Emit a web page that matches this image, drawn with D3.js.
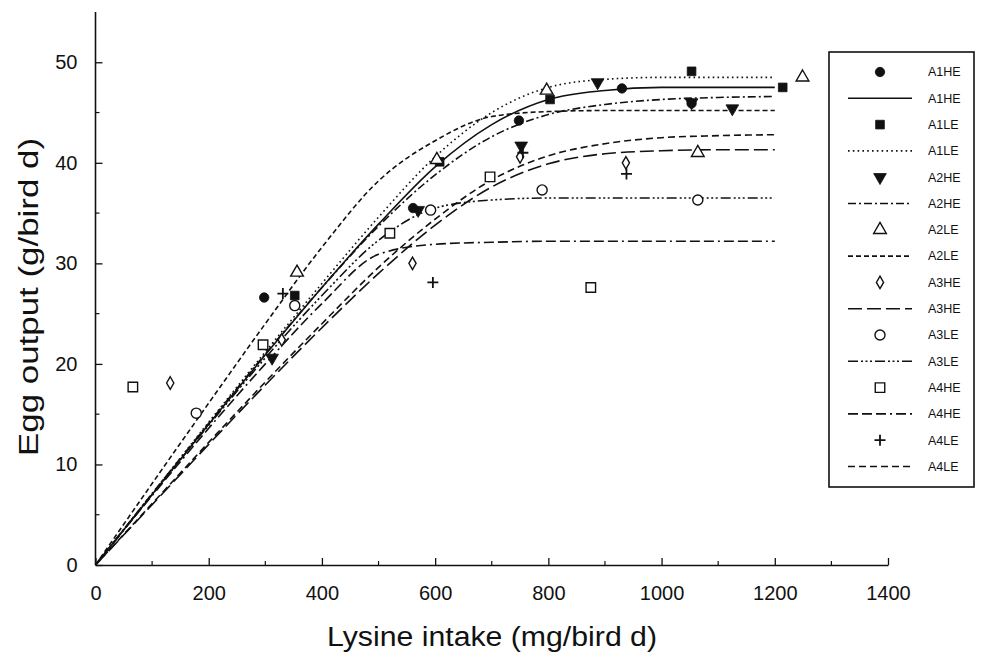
<!DOCTYPE html>
<html>
<head>
<meta charset="utf-8">
<script src="https://cdn.jsdelivr.net/npm/d3@7"></script>
<style>
  html, body { margin: 0; padding: 0; background: #fff; }
  svg { display: block; }
  text { font-family: "Liberation Sans", Arial, sans-serif; fill: #111; }
</style>
</head>
<body>
<svg id="chart" width="981" height="658"></svg>
<script>
// Series labels, in legend order
const groups = ["A1HE", "A1LE", "A2HE", "A2LE", "A3HE", "A3LE", "A4HE", "A4LE"];

// Lysine intake grid used for the fitted response curves (mg/bird d)
const curveX = [0, 100, 200, 300, 400, 500, 600, 700, 800, 900, 1000, 1100, 1200];

// Fitted egg output (g/bird d) at each curveX value
const fitA1HE = [0, 7.0, 14.0, 20.9, 27.6, 33.9, 39.6, 43.8, 46.3, 47.2, 47.5, 47.5, 47.5];
const fitA1LE = [0, 7.1, 14.2, 21.2, 28.0, 34.6, 40.6, 45.0, 47.5, 48.3, 48.5, 48.5, 48.5];
const fitA2HE = [0, 7.1, 14.1, 21.0, 27.6, 33.7, 38.8, 42.6, 44.8, 45.8, 46.3, 46.5, 46.6];
const fitA2LE = [0, 8.1, 16.1, 24.0, 31.6, 38.2, 42.2, 44.6, 45.1, 45.2, 45.2, 45.2, 45.2];
const fitA3HE = [0, 6.0, 12.0, 17.9, 23.6, 29.0, 33.8, 37.6, 39.9, 40.9, 41.2, 41.3, 41.3];
const fitA3LE = [0, 7.0, 13.9, 20.6, 26.8, 32.3, 35.5, 36.3, 36.5, 36.5, 36.5, 36.5, 36.5];
const fitA4HE = [0, 6.9, 13.6, 20.0, 26.0, 30.9, 31.9, 32.1, 32.2, 32.2, 32.2, 32.2, 32.2];
const fitA4LE = [0, 6.1, 12.2, 18.2, 24.0, 29.6, 34.4, 38.3, 40.7, 41.9, 42.5, 42.7, 42.8];

// Observed points: lysine intake (mg/bird d) and egg output (g/bird d)
const obsA1HE_x = [298, 561, 748, 930, 1053];
const obsA1HE_y = [26.6, 35.5, 44.2, 47.4, 45.9];
const obsA1LE_x = [352, 608, 803, 1053, 1214];
const obsA1LE_y = [26.8, 40.1, 46.3, 49.1, 47.5];
const obsA2HE_x = [312, 570, 752, 887, 1053, 1125];
const obsA2HE_y = [20.6, 35.3, 41.7, 48.0, 46.0, 45.4];
const obsA2LE_x = [356, 603, 797, 1064, 1249];
const obsA2LE_y = [29.1, 40.3, 47.2, 41.0, 48.5];
const obsA3HE_x = [132, 329, 560, 750, 937];
const obsA3HE_y = [18.1, 22.4, 30.0, 40.6, 40.0];
const obsA3LE_x = [178, 352, 592, 789, 1064];
const obsA3LE_y = [15.1, 25.8, 35.3, 37.3, 36.3];
const obsA4HE_x = [66, 296, 520, 697, 875];
const obsA4HE_y = [17.7, 21.9, 33.0, 38.6, 27.6];
const obsA4LE_x = [331, 596, 755, 938];
const obsA4LE_y = [27.0, 28.1, 41.0, 38.9];

// Axis ticks and titles
const xMajorTicks = [0, 200, 400, 600, 800, 1000, 1200, 1400];
const xMinorTicks = [100, 300, 500, 700, 900, 1100, 1300];
const yMajorTicks = [0, 10, 20, 30, 40, 50];
const yMinorTicks = [5, 15, 25, 35, 45];
const xTitle = "Lysine intake (mg/bird d)";
const yTitle = "Egg output (g/bird d)";

const fits = { A1HE: fitA1HE, A1LE: fitA1LE, A2HE: fitA2HE, A2LE: fitA2LE,
               A3HE: fitA3HE, A3LE: fitA3LE, A4HE: fitA4HE, A4LE: fitA4LE };
const obs = {
  A1HE: [obsA1HE_x, obsA1HE_y], A1LE: [obsA1LE_x, obsA1LE_y],
  A2HE: [obsA2HE_x, obsA2HE_y], A2LE: [obsA2LE_x, obsA2LE_y],
  A3HE: [obsA3HE_x, obsA3HE_y], A3LE: [obsA3LE_x, obsA3LE_y],
  A4HE: [obsA4HE_x, obsA4HE_y], A4LE: [obsA4LE_x, obsA4LE_y]
};

// Line dash pattern and marker type per series
const dashes = {
  A1HE: null,
  A1LE: "1.6,3.2",
  A2HE: "8,3,2,3",
  A2LE: "5,3",
  A3HE: "14,5",
  A3LE: "10,3,2,2.5,2,2.5,2,3",
  A4HE: "10,4,10,4,10,4,2,4",
  A4LE: "7,4"
};
const markers = {
  A1HE: "dotFilled", A1LE: "squareFilled", A2HE: "triDownFilled", A2LE: "triUpOpen",
  A3HE: "diamondOpen", A3LE: "circleOpen", A4HE: "squareOpen", A4LE: "plus"
};

const svg = d3.select("#chart");
const x = d3.scaleLinear().domain([0, 1400]).range([95.5, 888]);
const y = d3.scaleLinear().domain([0, 55]).range([565, 12]);

// Axes with inward-pointing ticks
const axisStroke = 1.6;
const xAxis = svg.append("g").attr("transform", `translate(0,${y(0)})`);
xAxis.call(d3.axisBottom(x).tickValues(xMajorTicks).tickSizeInner(-7).tickSizeOuter(0).tickPadding(18)
  .tickFormat(d3.format("d")));
xAxis.selectAll(".tick.minor").data(xMinorTicks).enter().append("line")
  .attr("x1", d => x(d)).attr("x2", d => x(d)).attr("y1", 0).attr("y2", -4)
  .attr("stroke", "#111").attr("stroke-width", 1.2);

const yAxis = svg.append("g").attr("transform", `translate(${x(0)},0)`);
yAxis.call(d3.axisLeft(y).tickValues(yMajorTicks).tickSizeInner(-7).tickSizeOuter(0).tickPadding(18)
  .tickFormat(d3.format("d")));
yAxis.selectAll(".minor").data(yMinorTicks).enter().append("line")
  .attr("x1", 0).attr("x2", 4).attr("y1", d => y(d)).attr("y2", d => y(d))
  .attr("stroke", "#111").attr("stroke-width", 1.2);

[xAxis, yAxis].forEach(g => {
  g.select(".domain").attr("stroke", "#111").attr("stroke-width", axisStroke);
  g.selectAll(".tick line").attr("stroke", "#111").attr("stroke-width", 1.3);
  g.selectAll(".tick text").attr("font-size", 20).attr("fill", "#111")
    .style("font-family", "'Liberation Sans', Arial, sans-serif");
});
// Extend the y axis line to the top of the domain
yAxis.select(".domain").attr("d", `M0,${y(0)}V${y(55)}`);
xAxis.selectAll(".tick text").attr("dy", "0.85em");

// Axis titles
svg.append("text")
  .attr("x", 492).attr("y", 646)
  .attr("text-anchor", "middle").attr("font-size", 27)
  .attr("textLength", 330).attr("lengthAdjust", "spacingAndGlyphs")
  .text(xTitle);
svg.append("text")
  .attr("transform", "translate(38,297) rotate(-90)")
  .attr("text-anchor", "middle").attr("font-size", 27)
  .attr("textLength", 318).attr("lengthAdjust", "spacingAndGlyphs")
  .text(yTitle);

// Fitted curves
const line = d3.line().x(d => x(d[0])).y(d => y(d[1])).curve(d3.curveMonotoneX);
const curves = svg.append("g").attr("fill", "none").attr("stroke", "#111").attr("stroke-width", 1.6);
groups.forEach(g => {
  curves.append("path")
    .attr("d", line(curveX.map((v, i) => [v, fits[g][i]])))
    .attr("stroke-dasharray", dashes[g]);
});

// Marker drawing
function drawMarker(sel, type) {
  const open = { fill: "#fff", stroke: "#111", "stroke-width": 1.4 };
  const filled = { fill: "#111", stroke: "#111", "stroke-width": 0.8 };
  let p;
  switch (type) {
    case "dotFilled":
      p = sel.append("path").attr("d", d3.symbol(d3.symbolCircle, 70)()); Object.entries(filled).forEach(([k, v]) => p.attr(k, v)); break;
    case "squareFilled":
      p = sel.append("path").attr("d", d3.symbol(d3.symbolSquare, 75)()); Object.entries(filled).forEach(([k, v]) => p.attr(k, v)); break;
    case "triDownFilled":
      p = sel.append("path").attr("d", d3.symbol(d3.symbolTriangle, 70)()).attr("transform", "rotate(180)"); Object.entries(filled).forEach(([k, v]) => p.attr(k, v)); break;
    case "triUpOpen":
      p = sel.append("path").attr("d", d3.symbol(d3.symbolTriangle, 70)()); Object.entries(open).forEach(([k, v]) => p.attr(k, v)); break;
    case "diamondOpen":
      p = sel.append("path").attr("d", d3.symbol(d3.symbolDiamond, 45)()); Object.entries(open).forEach(([k, v]) => p.attr(k, v)); break;
    case "circleOpen":
      p = sel.append("path").attr("d", d3.symbol(d3.symbolCircle, 80)()); Object.entries(open).forEach(([k, v]) => p.attr(k, v)); break;
    case "squareOpen":
      p = sel.append("path").attr("d", d3.symbol(d3.symbolSquare, 90)()); Object.entries(open).forEach(([k, v]) => p.attr(k, v)); break;
    case "plus":
      sel.append("path").attr("d", "M-5.5,0H5.5M0,-5.5V5.5").attr("stroke", "#111").attr("stroke-width", 1.8); break;
  }
}

// Observed points
const pts = svg.append("g");
groups.forEach(g => {
  const [xs, ys] = obs[g];
  xs.forEach((v, i) => {
    const m = pts.append("g").attr("transform", `translate(${x(v)},${y(ys[i])})`);
    drawMarker(m, markers[g]);
  });
});

// Legend: one row for each marker, one row for each line
const legend = svg.append("g");
legend.append("rect").attr("x", 829).attr("y", 52).attr("width", 145).attr("height", 435)
  .attr("fill", "#fff").attr("stroke", "#111").attr("stroke-width", 1.6);
groups.forEach((g, i) => {
  const yMarker = 72 + (2 * i) * 26.3;
  const yLine = 72 + (2 * i + 1) * 26.3;
  const m = legend.append("g").attr("transform", `translate(880,${yMarker})`);
  drawMarker(m, markers[g]);
  legend.append("text").attr("x", 928).attr("y", yMarker).attr("dy", "0.35em")
    .attr("font-size", 12.5).text(g);
  legend.append("line").attr("x1", 848).attr("x2", 912).attr("y1", yLine).attr("y2", yLine)
    .attr("stroke", "#111").attr("stroke-width", 1.6).attr("stroke-dasharray", dashes[g]);
  legend.append("text").attr("x", 928).attr("y", yLine).attr("dy", "0.35em")
    .attr("font-size", 12.5).text(g);
});
</script>
</body>
</html>
